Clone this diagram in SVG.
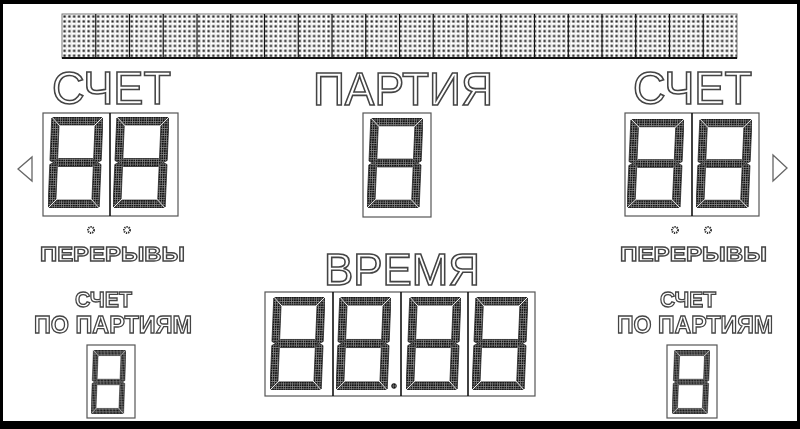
<svg xmlns="http://www.w3.org/2000/svg" xmlns:xlink="http://www.w3.org/1999/xlink" width="800" height="429" viewBox="0 0 800 429">
<style>
.big{font-family:"Liberation Sans",Arial,sans-serif;fill:#fff;stroke:#444;stroke-width:1.6}
.bold{font-family:"Liberation Sans",Arial,sans-serif;font-weight:bold;fill:#fff;stroke:#444;stroke-width:1.3}
.box{fill:#fff;stroke:#555;stroke-width:1.2}
.div{stroke:#111;stroke-width:1.6}
.arrow{fill:#fff;stroke:#666;stroke-width:1.3}
.ast{fill:none;stroke:#333;stroke-width:2;stroke-dasharray:1.3 0.9}
</style>
<defs>
<filter id="gray" x="-5%" y="-20%" width="110%" height="140%">
<feOffset dx="0" dy="0"/>
</filter>
<pattern id="led" patternUnits="userSpaceOnUse" width="2.4" height="2.4">
<rect width="2.4" height="2.4" fill="#888"/>
<rect width="1.7" height="1.7" fill="#111"/>
</pattern>
<pattern id="mat" patternUnits="userSpaceOnUse" x="62" y="14" width="4.8" height="4.9">
<rect width="4.8" height="4.9" fill="#fff"/>
<rect x="1.4" y="1.4" width="2.2" height="2.2" fill="#1a1a1a"/>
<rect x="4.5" y="0" width="0.4" height="4.9" fill="#aaa"/>
</pattern>
<symbol id="dig" viewBox="0 0 58 92" preserveAspectRatio="none">
<g transform="translate(4,0) skewX(-2.5)" fill="url(#led)" stroke="#222" stroke-width="0.8">
<polygon points="1,0 53,0 45,8 9,8"/>
<polygon points="54,1 54,44 50,46 46,42 46,9"/>
<polygon points="54,48 54,91 46,83 46,50 50,46"/>
<polygon points="1,92 53,92 45,84 9,84"/>
<polygon points="0,48 0,91 8,83 8,50 4,46"/>
<polygon points="0,1 0,44 4,46 8,42 8,9"/>
<polygon points="5,46 9,42 45,42 49,46 45,50 9,50"/>
</g>
</symbol>
</defs>
<rect x="0" y="0" width="800" height="429" fill="#000"/>
<rect x="3" y="4" width="794" height="417" fill="#fff"/>

<g id="banner">
<rect x="62" y="14" width="675" height="44" fill="url(#mat)" stroke="#777" stroke-width="1"/>
<g stroke="#111" stroke-width="1.2">
<line x1="95.75" y1="14" x2="95.75" y2="58"/><line x1="129.5" y1="14" x2="129.5" y2="58"/>
<line x1="163.25" y1="14" x2="163.25" y2="58"/><line x1="197" y1="14" x2="197" y2="58"/>
<line x1="230.75" y1="14" x2="230.75" y2="58"/><line x1="264.5" y1="14" x2="264.5" y2="58"/>
<line x1="298.25" y1="14" x2="298.25" y2="58"/><line x1="332" y1="14" x2="332" y2="58"/>
<line x1="365.75" y1="14" x2="365.75" y2="58"/><line x1="399.5" y1="14" x2="399.5" y2="58"/>
<line x1="433.25" y1="14" x2="433.25" y2="58"/><line x1="467" y1="14" x2="467" y2="58"/>
<line x1="500.75" y1="14" x2="500.75" y2="58"/><line x1="534.5" y1="14" x2="534.5" y2="58"/>
<line x1="568.25" y1="14" x2="568.25" y2="58"/><line x1="602" y1="14" x2="602" y2="58"/>
<line x1="635.75" y1="14" x2="635.75" y2="58"/><line x1="669.5" y1="14" x2="669.5" y2="58"/>
<line x1="703.25" y1="14" x2="703.25" y2="58"/>
</g>
<line x1="62" y1="58" x2="737" y2="58" stroke="#111" stroke-width="1.8"/>
</g>

<g id="score-left">
<text class="big" filter="url(#gray)" x="52" y="104" font-size="47" textLength="119" lengthAdjust="spacingAndGlyphs">СЧЕТ</text>
<rect class="box" x="43" y="113" width="135" height="103"/>
<line class="div" x1="110" y1="113" x2="110" y2="216"/>
<use href="#dig" x="48" y="117" width="55" height="91"/>
<use href="#dig" x="113" y="117" width="56" height="91"/>
<polygon class="arrow" points="18,169 32,157 32,181"/>
<circle class="ast" cx="91" cy="230" r="3"/>
<circle class="ast" cx="127" cy="230" r="3"/>
<text class="bold" filter="url(#gray)" x="40" y="261" font-size="21" textLength="145" lengthAdjust="spacingAndGlyphs">ПЕРЕРЫВЫ</text>
</g>

<g id="party">
<text class="big" filter="url(#gray)" x="313" y="105" font-size="47" textLength="180" lengthAdjust="spacingAndGlyphs">ПАРТИЯ</text>
<rect class="box" x="363" y="113" width="68" height="104"/>
<use href="#dig" x="367" y="118" width="56" height="90"/>
</g>

<g id="score-right">
<text class="big" filter="url(#gray)" x="633" y="104" font-size="47" textLength="119" lengthAdjust="spacingAndGlyphs">СЧЕТ</text>
<rect class="box" x="625" y="113" width="134" height="103"/>
<line class="div" x1="692" y1="113" x2="692" y2="216"/>
<use href="#dig" x="627" y="119" width="57" height="89"/>
<use href="#dig" x="696" y="119" width="56" height="89"/>
<polygon class="arrow" points="773,155 787,168 773,181"/>
<circle class="ast" cx="675" cy="230" r="3"/>
<circle class="ast" cx="708" cy="230" r="3"/>
<text class="bold" filter="url(#gray)" x="620" y="261" font-size="21" textLength="147" lengthAdjust="spacingAndGlyphs">ПЕРЕРЫВЫ</text>
</g>

<g id="time">
<text class="big" filter="url(#gray)" x="324" y="285" font-size="45" textLength="156" lengthAdjust="spacingAndGlyphs">ВРЕМЯ</text>
<rect class="box" x="265" y="292" width="270" height="104"/>
<line class="div" x1="333" y1="292" x2="333" y2="396"/>
<line class="div" x1="401" y1="292" x2="401" y2="396"/>
<line class="div" x1="468" y1="292" x2="468" y2="396"/>
<use href="#dig" x="270" y="297" width="55" height="93"/>
<use href="#dig" x="336" y="297" width="55" height="93"/>
<use href="#dig" x="406" y="297" width="55" height="93"/>
<use href="#dig" x="472" y="297" width="56" height="93"/>
<circle cx="394" cy="386" r="2.4" fill="url(#led)" stroke="#222" stroke-width="0.8"/>
</g>

<g id="sets-left">
<text class="bold" filter="url(#gray)" x="75" y="307" font-size="22" textLength="57" lengthAdjust="spacingAndGlyphs">СЧЕТ</text>
<text class="bold" filter="url(#gray)" x="34" y="333" font-size="24" textLength="158" lengthAdjust="spacingAndGlyphs">ПО ПАРТИЯМ</text>
<rect class="box" x="87" y="345" width="48" height="73"/>
<use href="#dig" x="91" y="350" width="35" height="64"/>
</g>

<g id="sets-right">
<text class="bold" filter="url(#gray)" x="660" y="307" font-size="22" textLength="56" lengthAdjust="spacingAndGlyphs">СЧЕТ</text>
<text class="bold" filter="url(#gray)" x="617" y="333" font-size="24" textLength="156" lengthAdjust="spacingAndGlyphs">ПО ПАРТИЯМ</text>
<rect class="box" x="667" y="345" width="50" height="73"/>
<use href="#dig" x="672" y="350" width="38" height="64"/>
</g>
</svg>
